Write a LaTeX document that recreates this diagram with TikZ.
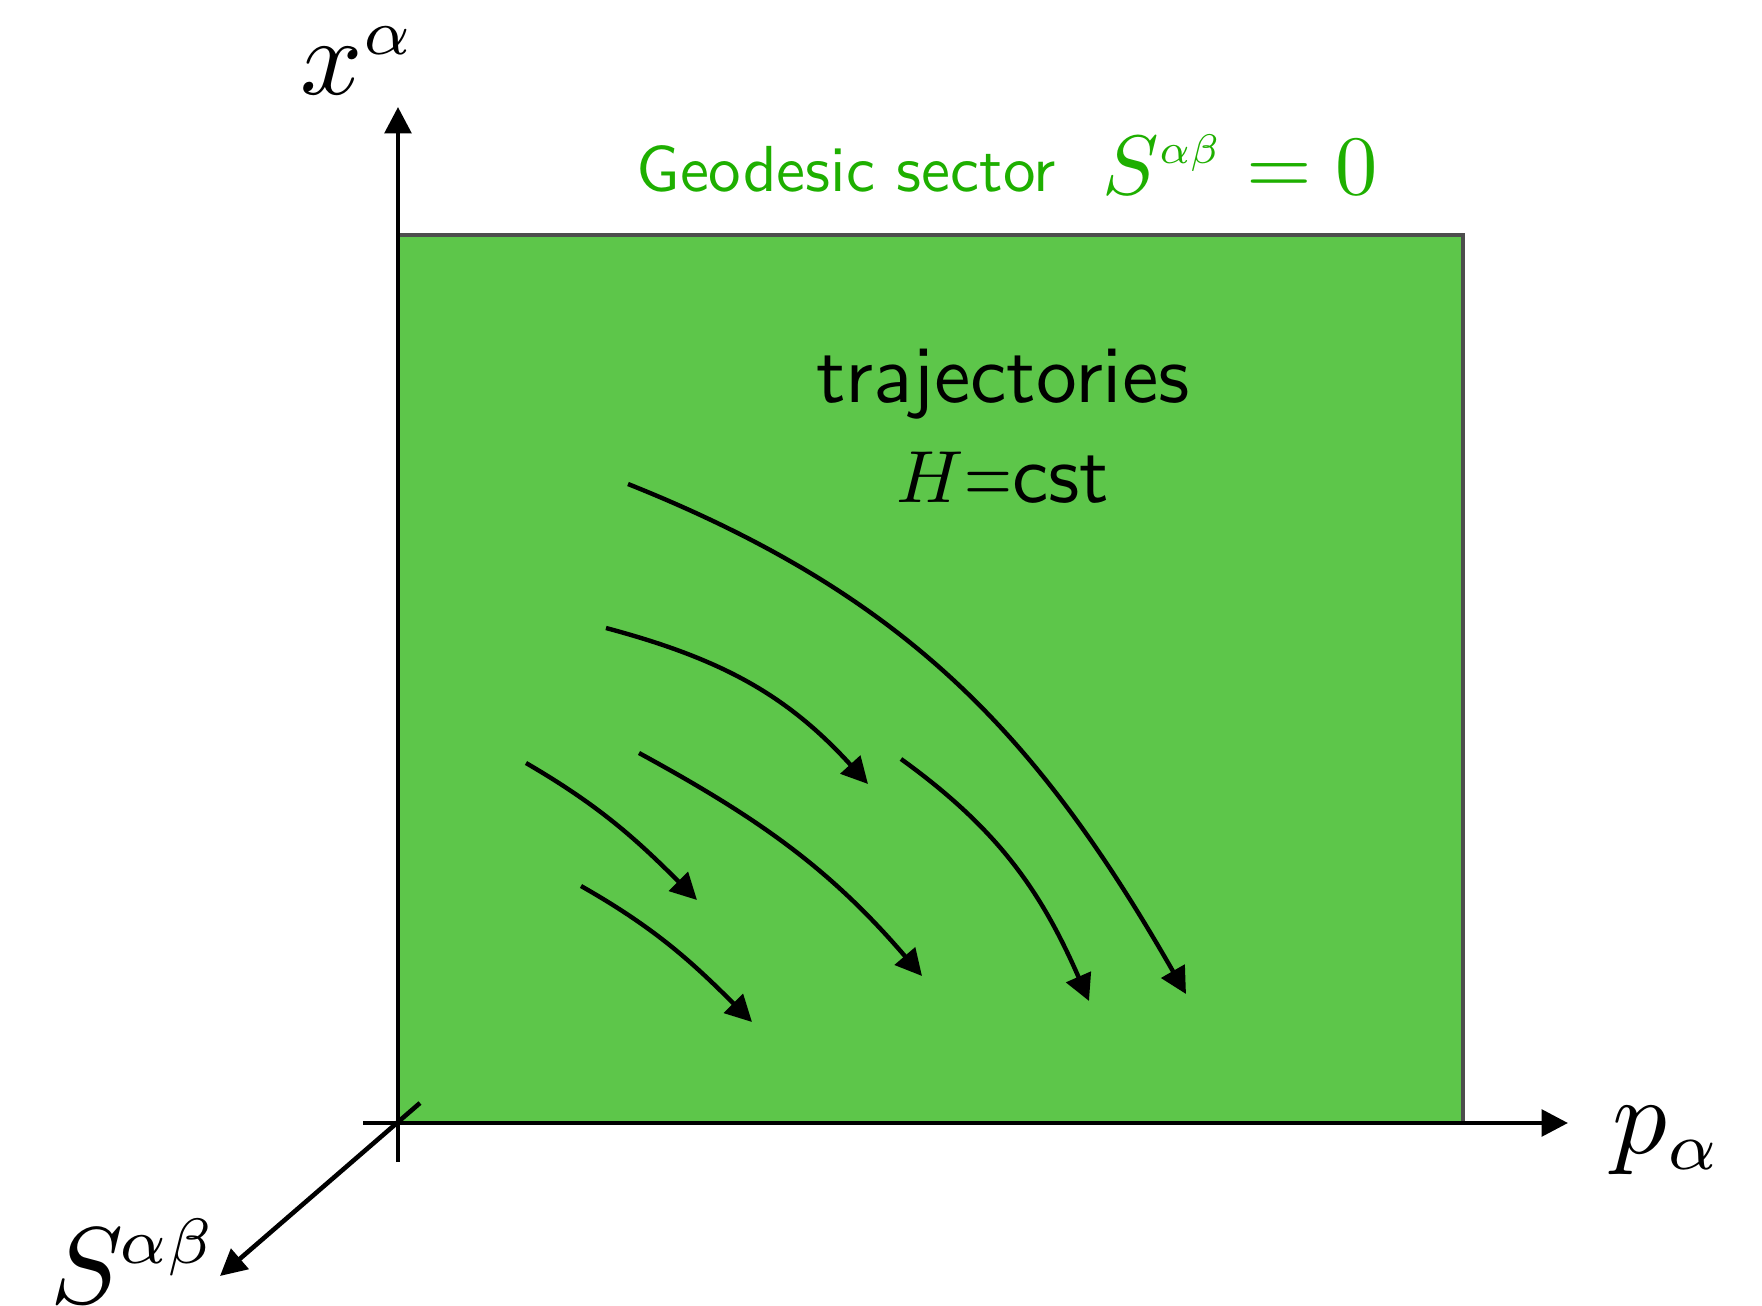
\RequirePackage{fix-cm}
\documentclass[tikz,border=0pt]{standalone}
\usetikzlibrary{arrows.meta}
\newcommand\smallscr[2]{\scalebox{#1}{$\scriptstyle #2$}}
\definecolor{sectorfill}{RGB}{93,198,74}
\definecolor{sectorborder}{RGB}{77,77,77}
\definecolor{sectortext}{RGB}{30,175,0}
\begin{document}
\begin{tikzpicture}[x=0.01cm,y=-0.01cm,
  axisline/.style={line width=1.3pt,black,-{Triangle[length=7.5pt,width=7.5pt]}},
  traj/.style={line width=1.25pt,black,-{Triangle[length=7.5pt,width=7.5pt]}},
  lbl/.style={inner sep=0pt,anchor=base west,font=\fontsize{10}{12}\selectfont}]
\useasboundingbox (0,0) rectangle (1762,1306);
% sector
\filldraw[fill=sectorfill,draw=sectorborder,line width=1.3pt] (398,235) rectangle (1463,1123);
% axes
\coordinate (ybot) at (398,1162);
\coordinate (ytop) at (398,107);
\coordinate (xleft) at (363,1123);
\coordinate (xright) at (1568,1123);
\coordinate (sstart) at (420,1103);
\coordinate (send) at (220,1276);
\draw[axisline] (ybot) -- (ytop);
\draw[axisline] (xleft) -- (xright);
\draw[axisline] (sstart) -- (send);
% axis labels
\node[lbl] (xlab) at (300,94) {\scalebox{3.1}{$x^{\smallscr{0.84}{\alpha}}$}};
\node[lbl] (plab) at (1612,1153) {\scalebox{3.1}{$p_{\smallscr{0.88}{\alpha}}$}};
\node[lbl] (slab) at (50,1303) {\scalebox{3.1}{$S^{\mkern-0.8mu\smallscr{0.84}{\alpha\beta}}$}};
% title
\node[lbl,text=sectortext] (geo) at (636,191) {\scalebox{1.85}{\sffamily Geodesic sector}};
\node[lbl,text=sectortext] (seq) at (1102,194) {\scalebox{2.4}{$S^{\smallscr{0.7}{\alpha\beta}}=0$}};
% trajectories label
\node[lbl,anchor=base] (tr) at (1003,402) {\scalebox{2.32}{\sffamily trajectories}};
\node[lbl,anchor=base] (hc) at (1003,502) {\scalebox{2.1}{$H$}\scalebox{1.75}[2.32]{\sffamily =}\scalebox{2.32}{\sffamily cst}};
% trajectories
\coordinate (a1s) at (628,484); \coordinate (a1e) at (1186,994);
\coordinate (a2s) at (606,628); \coordinate (a2e) at (868,784);
\coordinate (a3s) at (639,753); \coordinate (a3e) at (922,976);
\coordinate (a4s) at (526,763); \coordinate (a4e) at (697,900);
\coordinate (a5s) at (581,886); \coordinate (a5e) at (752,1022);
\coordinate (a6s) at (901,759); \coordinate (a6e) at (1089,1001);
\draw[traj] (a1s) .. controls (906,595) and (1037,734) .. (a1e);
\draw[traj] (a2s) .. controls (722,659) and (787,695) .. (a2e);
\draw[traj] (a3s) .. controls (762,820) and (831,870) .. (a3e);
\draw[traj] (a4s) .. controls (600,806) and (637,840) .. (a4e);
\draw[traj] (a5s) .. controls (655,928) and (692,962) .. (a5e);
\draw[traj] (a6s) .. controls (998,829) and (1041,891) .. (a6e);
\end{tikzpicture}
\end{document}
